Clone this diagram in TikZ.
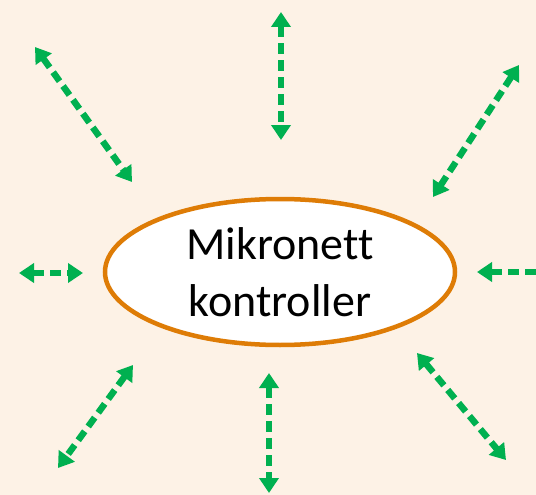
\documentclass[tikz,border=0pt]{standalone}
\usepackage{fontspec}
\setmainfont{Carlito}[RawFeature={-liga}]
\usetikzlibrary{arrows.meta, positioning, shapes.geometric}

\definecolor{peach}{HTML}{FDF2E6}
\definecolor{linkgreen}{HTML}{00B050}
\definecolor{ringorange}{HTML}{DE7C06}

\begin{document}
\begin{tikzpicture}[x=1pt, y=-1pt,
    >={Triangle[width=19pt,length=15pt]},
    link/.style={<->, linkgreen, line width=6.5pt, dash pattern=on 11pt off 6pt},
    ctrl/.style={ellipse, draw=ringorange, line width=4.5pt, fill=white,
      minimum width=350pt, minimum height=146pt, inner sep=0pt,
      align=center, font=\fontsize{46}{57}\selectfont}]
          \fill[peach] (0,0) rectangle (536,495);
          \useasboundingbox (0,0) rectangle (536,495);

          \node (mk) [ctrl] at (280,272) {Mikronett\\kontroller};

          % ends of the links
          \coordinate (tl1) at (35,47);   \coordinate (tl2) at (132,182);
          \coordinate (t1)  at (281,12);  \coordinate (t2)  at (281,140);
          \coordinate (tr1) at (519,65);  \coordinate (tr2) at (433,197);
          \coordinate (l1)  at (19,273);  \coordinate (l2)  at (83,273);
          \coordinate (r1)  at (477,272); \coordinate (r2)  at (566,272);
          \coordinate (bl1) at (133,365); \coordinate (bl2) at (58,468);
          \coordinate (b1)  at (269,373); \coordinate (b2)  at (269,493);
          \coordinate (br1) at (417,353); \coordinate (br2) at (506,460);

          \path [link]
              (tl1) edge (tl2)
              (t1) edge (t2)
              (tr1) edge (tr2)
              (l1) edge (l2)
              (r1) edge (r2)
              (bl1) edge (bl2)
              (b1) edge (b2)
              (br1) edge (br2)
              ;
      \end{tikzpicture}
\end{document}
